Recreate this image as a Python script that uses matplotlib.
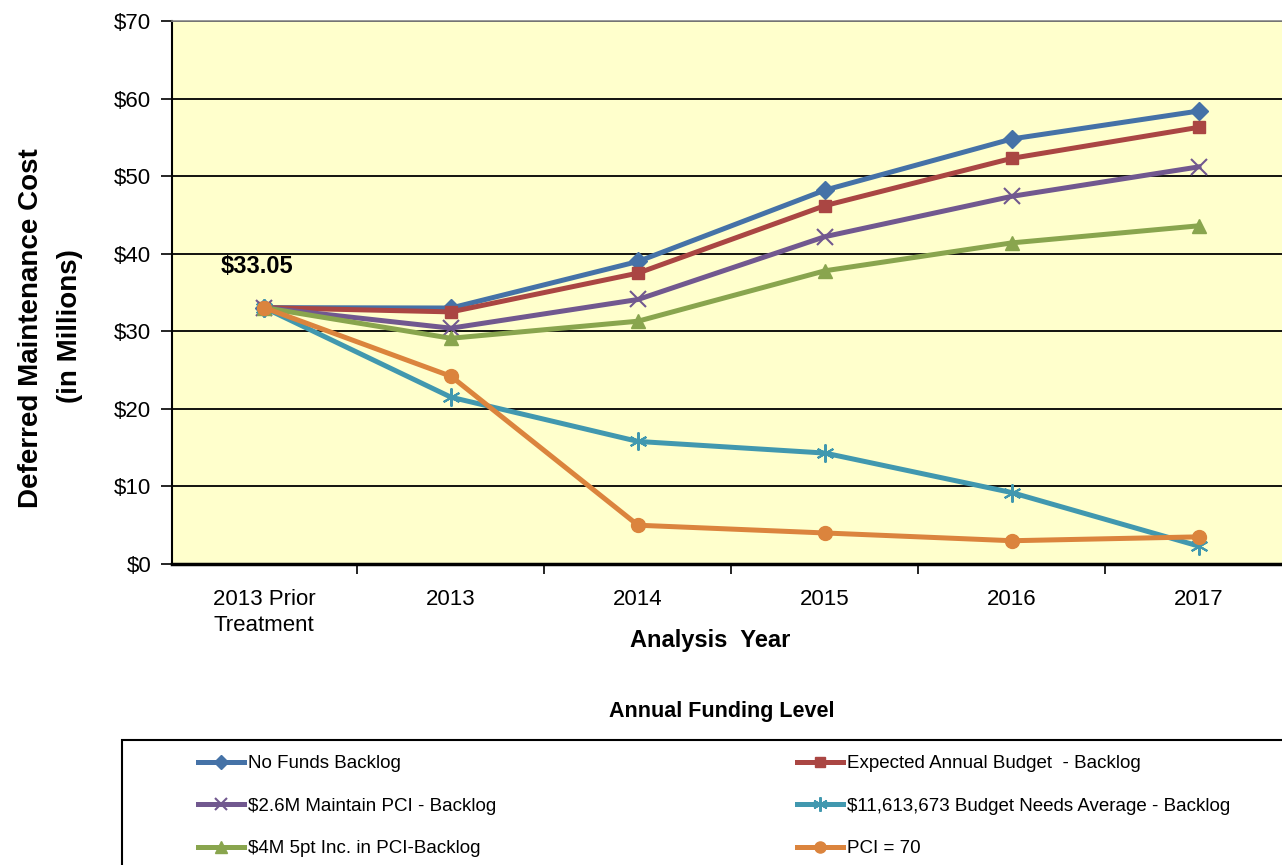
import matplotlib
matplotlib.use("Agg")
import matplotlib.pyplot as plt
from matplotlib.patches import Rectangle
from matplotlib.ticker import FixedLocator, FuncFormatter

plt.rcParams['font.family'] = ['Liberation Sans', 'DejaVu Sans']

categories = ["2013 Prior\nTreatment", "2013", "2014", "2015", "2016", "2017"]
no_funds = [33.05, 33.0, 39.0, 48.2, 54.8, 58.4]
expected = [33.05, 32.5, 37.5, 46.2, 52.3, 56.3]
maintain = [33.05, 30.4, 34.1, 42.2, 47.4, 51.2]
needs_avg = [33.05, 21.5, 15.8, 14.3, 9.2, 2.3]
inc_5pt = [33.05, 29.1, 31.3, 37.8, 41.4, 43.6]
pci_70 = [33.05, 24.2, 5.0, 4.0, 3.0, 3.5]

series = [
    ("No Funds Backlog", no_funds, "#4572A7", "D", 9),
    ("Expected Annual Budget  - Backlog", expected, "#AA4643", "s", 9),
    ("$2.6M Maintain PCI - Backlog", maintain, "#71588F", "x", 11),
    ("$11,613,673 Budget Needs Average - Backlog", needs_avg, "#4198AF", (6, 2, 0), 13),
    ("$4M 5pt Inc. in PCI-Backlog", inc_5pt, "#89A54E", "^", 10),
    ("PCI = 70", pci_70, "#DB843D", "o", 10),
]

W, H = 1282, 865
fig = plt.figure(figsize=(W / 100, H / 100), dpi=100)
ax = fig.add_axes([172 / W, 1 - 564 / H, 1 - 172 / W, (564 - 21) / H])
ax.set_facecolor("#FFFFCC")

x = list(range(len(categories)))
handles = {}
for name, vals, col, mk, ms in series:
    (ln,) = ax.plot(x, vals, color=col, lw=3.6, marker=mk, markersize=ms,
                    markeredgewidth=1.5 if mk in ("x", (6, 2, 0)) else 1,
                    markeredgecolor=col, markerfacecolor=col, label=name, zorder=3,
                    clip_on=False)
    handles[name] = ln

ax.yaxis.set_major_locator(FixedLocator(range(0, 71, 10)))
ax.yaxis.set_major_formatter(FuncFormatter(lambda v, p: f"${int(v)}"))
ax.grid(axis="y", color="black", lw=1.3, zorder=1)
ax.set_xticks(x)
ax.set_xticklabels(categories, fontsize=16, linespacing=1.3)
ax.set_xticks([i - 0.5 for i in range(len(categories) + 1)], minor=True)
ax.set_ylim(0, 70)
ax.set_xlim(-0.492, 5.444)
ax.tick_params(axis="x", which="major", length=0, pad=18)
ax.tick_params(axis="x", which="minor", length=7, width=1.2, direction="out")
ax.tick_params(axis="y", labelsize=16, length=8, width=1.2, direction="out", pad=7)
ax.spines["right"].set_visible(False)
ax.spines["left"].set_linewidth(1.5)
ax.spines["bottom"].set_linewidth(2.5)
ax.spines["top"].set_color("#888888")
ax.spines["top"].set_linewidth(1.2)

ax.text(-0.04, 38.3, "$33.05", fontsize=17, fontweight="bold", ha="center", va="center")

ax.set_xlabel("Analysis  Year", fontsize=17, fontweight="bold")
ax.xaxis.set_label_coords((710 - 172) / 1110, (564 - 641) / 543)
ax.xaxis.label.set_va("center")
fig.text(31 / W, 1 - 328 / H, "Deferred Maintenance Cost", rotation=90,
         fontsize=20, fontweight="bold", ha="center", va="center")
fig.text(70 / W, 1 - 326 / H, "(in Millions)", rotation=90,
         fontsize=20, fontweight="bold", ha="center", va="center")

# Legend area
fig.text(722 / W, 1 - 712 / H, "Annual Funding Level", fontsize=15.5, fontweight="bold",
         ha="center", va="center")
fig.patches.append(Rectangle((122 / W, -0.05), 1.2, 0.05 + (1 - 740 / H), transform=fig.transFigure,
                             facecolor="none", edgecolor="black", lw=1.5))

col1 = [series[0][0], series[2][0], series[4][0]]
col2 = [series[1][0], series[3][0], series[5][0]]
for names, x0 in ((col1, 198), (col2, 797)):
    fig.legend([handles[n] for n in names], names, loc="upper left",
               bbox_to_anchor=(x0 / W, 1 - 755 / H), frameon=False,
               fontsize=13.5, handlelength=2.45, handletextpad=0.2,
               labelspacing=1.36, borderpad=0, borderaxespad=0, markerscale=0.8)

fig.savefig("out.png", dpi=100)
